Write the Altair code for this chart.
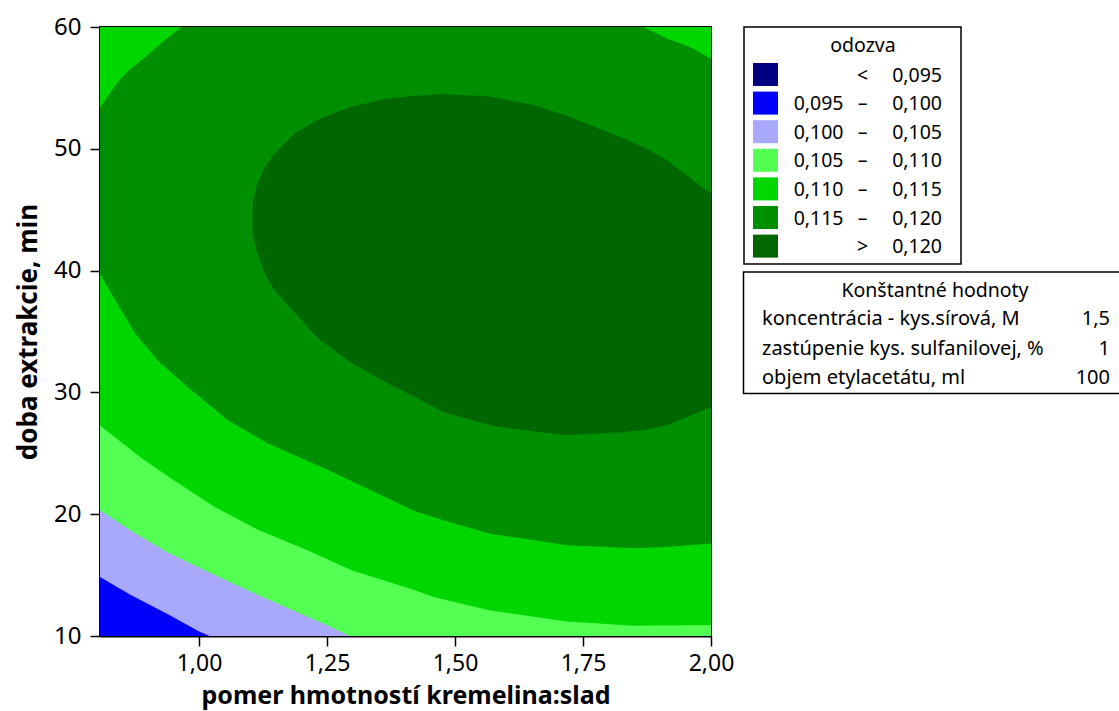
import altair as alt
import pandas as pd

# ---------------- data ----------------
# axis ticks
x_ticks = [1.00, 1.25, 1.50, 1.75, 2.00]
y_ticks = [10, 20, 30, 40, 50, 60]

# contour boundaries (x = pomer hmotností, y = doba extrakcie)
# level 0.100 (blue | lavender)
b100_x = [0.80, 0.865, 0.943, 1.002, 1.021, 2.00]
b100_y = [15.0, 13.4, 11.7, 10.33, 10.0, 10.0]
# level 0.105 (lavender | light green)
b105_x = [0.80, 0.865, 0.937, 1.041, 1.119, 1.184, 1.249, 1.295, 2.00]
b105_y = [20.5, 18.7, 16.9, 14.8, 13.3, 12.1, 10.9, 10.0, 10.0]
# level 0.110 (light green | green), lower branch
b110_x = [0.80, 0.888, 0.947, 1.031, 1.116, 1.214, 1.298, 1.422, 1.458, 1.569, 1.719, 1.849, 2.00]
b110_y = [27.5, 24.6, 22.9, 20.6, 18.7, 17.0, 15.4, 13.75, 13.2, 12.1, 11.2, 10.84, 10.9]
# level 0.115 (green | darker green), lower branch
b115_x = [0.80, 0.842, 0.875, 0.920, 0.973, 1.057, 1.135, 1.253, 1.422, 1.477, 1.569, 1.719, 1.849, 1.914, 2.00]
b115_y = [40.2, 37.2, 34.85, 32.6, 30.6, 27.7, 25.8, 23.6, 20.24, 19.5, 18.4, 17.45, 17.2, 17.3, 17.6]
# level 0.115, top-left corner branch
b115_tl_x = [0.80, 0.842, 0.862, 0.894, 0.937, 0.966]
b115_tl_y = [53.0, 55.5, 56.4, 57.5, 59.05, 60.0]
# level 0.115, top-right corner branch
b115_tr_x = [1.868, 1.914, 1.959, 2.00]
b115_tr_y = [60.0, 59.05, 58.36, 57.4]
# level 0.120 closed contour (lower / upper branch at the same x)
b120_x = [1.105, 1.113, 1.129, 1.145, 1.188, 1.233, 1.292, 1.363, 1.422, 1.477,
          1.569, 1.653, 1.719, 1.823, 1.875, 1.914, 2.00]
b120_lo = [43.0, 41.5, 39.75, 38.5, 36.5, 34.4, 32.6, 30.85, 29.6, 28.4,
           27.3, 26.8, 26.5, 26.7, 26.95, 27.3, 28.8]
b120_hi = [45.6, 47.0, 48.5, 49.5, 51.3, 52.4, 53.4, 54.1, 54.35, 54.5,
           54.3, 53.6, 52.7, 50.97, 50.0, 49.05, 46.3]

# legend
legend_title = "odozva"
legend_lo = ["", "0,095", "0,100", "0,105", "0,110", "0,115", ""]
legend_sep = ["<", "–", "–", "–", "–", "–", ">"]
legend_hi = ["0,095", "0,100", "0,105", "0,110", "0,115", "0,120", "0,120"]
legend_colors = ["#000080", "#0000FF", "#A8A8FF", "#52FF52", "#00D700", "#008F00", "#006700"]

const_title = "Konštantné hodnoty"
const_labels = ["koncentrácia - kys.sírová, M", "zastúpenie kys. sulfanilovej, %", "objem etylacetátu, ml"]
const_values = ["1,5", "1", "100"]

# ---------------- chart ----------------
FONT = "Noto Sans"
X_DOMAIN = [0.8066, 2.0]
Y_DOMAIN = [10, 60]
W, H = 611, 609

x_axis = alt.Axis(
    values=x_ticks, labelExpr="replace(format(datum.value, '.2f'), '.', ',')",
    grid=False, tickSize=10, tickColor="black", tickWidth=1.5,
    domainColor="black", domainWidth=2, labelFlush=False, labelOverlap=False,
    labelFont=FONT, labelFontSize=23, labelColor="black", labelBaseline="alphabetic",
    labelPadding=24, title="pomer hmotností kremelina:slad", titleFont=FONT,
    titleFontSize=25, titleFontWeight="bold", titleColor="black",
    titleBaseline="alphabetic", titleY=67,
)
y_axis = alt.Axis(
    values=y_ticks, grid=False, tickSize=10, tickColor="black", tickWidth=1.5,
    domainColor="black", domainWidth=2, labelFlush=False, labelOverlap=False,
    labelFont=FONT, labelFontSize=24, labelColor="black", labelPadding=9,
    title="doba extrakcie, min", titleFont=FONT, titleFontSize=26,
    titleFontWeight="bold", titleColor="black", titleAngle=270,
    titleAlign="center", titleBaseline="alphabetic", titleX=-64, titleY=H / 2,
)
xs = alt.Scale(domain=X_DOMAIN, nice=False, zero=False)
ys = alt.Scale(domain=Y_DOMAIN, nice=False, zero=False)


def region(xv, lo, hi, color):
    df = pd.DataFrame({"x": xv, "lo": lo, "hi": hi})
    return alt.Chart(df).mark_area(color=color, clip=True, opacity=1).encode(
        x=alt.X("x:Q", scale=xs, axis=x_axis),
        y=alt.Y("lo:Q", scale=ys, axis=y_axis),
        y2="hi:Q",
    )


full_x = [X_DOMAIN[0], X_DOMAIN[1]]
layers = [
    region(full_x, [10, 10], [60, 60], legend_colors[1]),
    region(b100_x, b100_y, [60] * len(b100_x), legend_colors[2]),
    region(b105_x, b105_y, [60] * len(b105_x), legend_colors[3]),
    region(b110_x, b110_y, [60] * len(b110_x), legend_colors[4]),
    region(b115_x, b115_y, [60] * len(b115_x), legend_colors[5]),
    region(b115_tl_x, b115_tl_y, [60] * len(b115_tl_x), legend_colors[4]),
    region(b115_tr_x, b115_tr_y, [60] * len(b115_tr_x), legend_colors[4]),
    region(b120_x, b120_lo, b120_hi, legend_colors[6]),
]
plot = alt.layer(*layers)

# ---- legend panel, positioned in pixels to the right of the plot ----
n = len(legend_hi)
leg = pd.DataFrame({"lo": legend_lo, "sep": legend_sep, "hi": legend_hi, "c": legend_colors, "i": list(range(n))})
leg["top"] = 36 + 28.6 * leg["i"]
leg["bot"] = leg["top"] + 23
leg["base"] = leg["top"] + 18.5
leg["sx0"] = 653
leg["sx1"] = 678
leg["lx"] = 743.5
leg["mx"] = 762.5
leg["hx"] = 842

px = lambda f: alt.X(f, scale=None, axis=None)
py = lambda f: alt.Y(f, scale=None, axis=None)

boxes = pd.DataFrame({"x0": [644, 643.5], "x1": [861, 1040], "y0": [0, 245], "y1": [237, 366.5]})
box_layer = alt.Chart(boxes).mark_rect(fill="white", stroke="black", strokeWidth=1.5).encode(
    x=px("x0:Q"), x2="x1:Q", y=py("y0:Q"), y2="y1:Q")

sw = alt.Chart(leg).mark_rect().encode(
    x=px("sx0:Q"), x2="sx1:Q", y=py("top:Q"), y2="bot:Q",
    color=alt.Color("c:N", scale=None))
tstyle = dict(font=FONT, fontSize=19.5, color="black", baseline="alphabetic")
t_lo = alt.Chart(leg).mark_text(align="right", **tstyle).encode(x=px("lx:Q"), y=py("base:Q"), text="lo:N")
t_sep = alt.Chart(leg).mark_text(align="center", **tstyle).encode(x=px("mx:Q"), y=py("base:Q"), text="sep:N")
t_hi = alt.Chart(leg).mark_text(align="right", **tstyle).encode(x=px("hx:Q"), y=py("base:Q"), text="hi:N")

titles = pd.DataFrame({"t": [legend_title, const_title], "x": [763, 835], "y": [25, 269.5]})
t_titles = alt.Chart(titles).mark_text(align="center", **tstyle).encode(x=px("x:Q"), y=py("y:Q"), text="t:N")

cst = pd.DataFrame({"lab": const_labels, "val": const_values, "i": list(range(len(const_labels)))})
cst["base"] = 298 + 29.5 * cst["i"]
cst["lx"] = 662
cst["vx"] = 1010
cstyle = dict(font=FONT, fontSize=20, color="black", baseline="alphabetic")
t_cl = alt.Chart(cst).mark_text(align="left", **cstyle).encode(x=px("lx:Q"), y=py("base:Q"), text="lab:N")
t_cv = alt.Chart(cst).mark_text(align="right", **cstyle).encode(x=px("vx:Q"), y=py("base:Q"), text="val:N")

legend = alt.layer(box_layer, sw, t_lo, t_sep, t_hi, t_titles, t_cl, t_cv)

chart = alt.layer(plot, legend).resolve_scale(
    x="independent", y="independent", color="independent"
).properties(
    width=W, height=H, autosize="none",
    padding={"left": 100, "top": 27, "right": 408, "bottom": 75},
    background="white",
).configure_view(stroke="black", strokeWidth=2)

chart.save("out.html", embed_options={"renderer": "svg", "actions": False})
